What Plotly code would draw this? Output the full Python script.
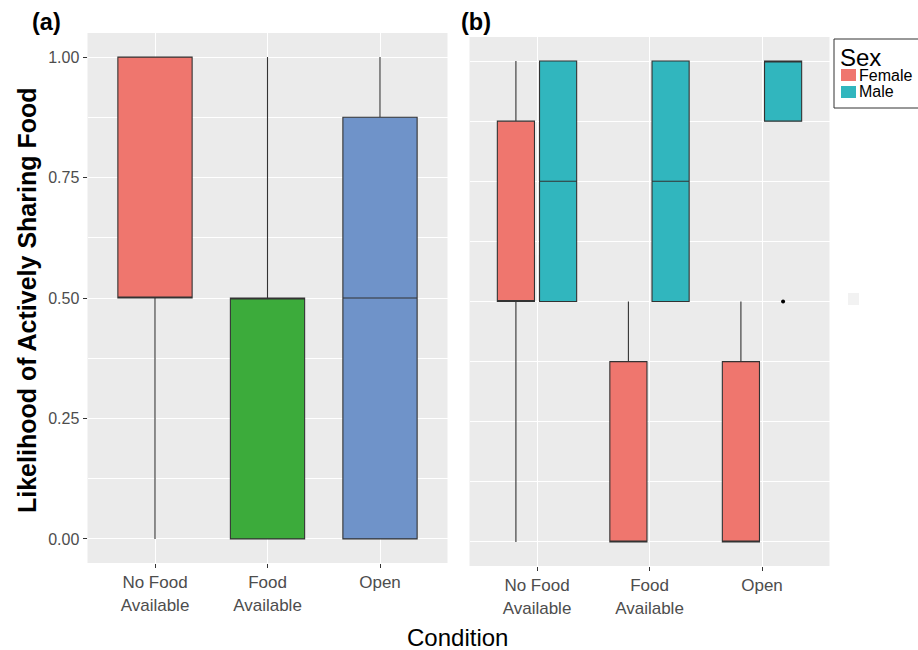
import plotly.graph_objects as go

# ---- data -------------------------------------------------------------
conditions = ["No Food<br>Available", "Food<br>Available", "Open"]

# panel (a): all individuals, one box per condition
a_q1 = [0.5, 0.0, 0.0]
a_median = [0.5, 0.5, 0.5]
a_q3 = [1.0, 0.5, 0.875]
a_low = [0.0, 0.0, 0.0]
a_high = [1.0, 1.0, 1.0]
a_colors = ["#EF766E", "#3CAB3B", "#6F93C9"]

# panel (b): split by sex
sexes = ["Female", "Male"]
sex_colors = {"Female": "#EF766E", "Male": "#31B6BE"}
b_q1 = {"Female": [0.5, 0.0, 0.0], "Male": [0.5, 0.5, 0.875]}
b_median = {"Female": [0.5, 0.0, 0.0], "Male": [0.75, 0.75, 1.0]}
b_q3 = {"Female": [0.875, 0.375, 0.375], "Male": [1.0, 1.0, 1.0]}
b_low = {"Female": [0.0, 0.0, 0.0], "Male": [0.5, 0.5, 0.875]}
b_high = {"Female": [1.0, 0.5, 0.5], "Male": [1.0, 1.0, 1.0]}
b_outlier_x = {"Female": [], "Male": ["Open"]}
b_outlier_y = {"Female": [], "Male": [0.5]}

y_ticks = [0.0, 0.25, 0.5, 0.75, 1.0]
y_ticktext = ["0.00", "0.25", "0.50", "0.75", "1.00"]

# ---- figure -----------------------------------------------------------
W, H = 918, 650
FONT = "Liberation Sans, Arial, sans-serif"
fig = go.Figure()

for i, cond in enumerate(conditions):
    fig.add_trace(go.Box(
        x=[cond], q1=[a_q1[i]], median=[a_median[i]], q3=[a_q3[i]],
        lowerfence=[a_low[i]], upperfence=[a_high[i]],
        fillcolor=a_colors[i], line=dict(color="#333333", width=1.1),
        whiskerwidth=0, boxpoints=False, showlegend=False,
        offsetgroup="a", alignmentgroup="pa", xaxis="x", yaxis="y",
        hoverinfo="skip",
    ))

for sex in sexes:
    fig.add_trace(go.Box(
        x=conditions, q1=b_q1[sex], median=b_median[sex], q3=b_q3[sex],
        lowerfence=b_low[sex], upperfence=b_high[sex],
        fillcolor=sex_colors[sex], line=dict(color="#333333", width=1.1),
        whiskerwidth=0, boxpoints=False, name=sex, showlegend=False,
        offsetgroup=sex, alignmentgroup="pb", xaxis="x2", yaxis="y2",
        hoverinfo="skip",
    ))
    fig.add_trace(go.Scatter(
        x=[conditions[2] if v == "Open" else v for v in b_outlier_x[sex]],
        y=b_outlier_y[sex], mode="markers",
        marker=dict(color="black", size=4), showlegend=False,
        offsetgroup=sex, alignmentgroup="pb", xaxis="x2", yaxis="y2",
        hoverinfo="skip",
    ))

tick_font = dict(family=FONT, size=17, color="#4D4D4D")
panel_bg = "#EBEBEB"

common_x = dict(
    type="category", categoryorder="array", categoryarray=conditions,
    range=[-0.6, 2.6], showgrid=True, gridcolor="white", gridwidth=1.1,
    ticks="outside", ticklen=4, tickcolor="#333333", tickfont=tick_font,
    zeroline=False, showline=False, fixedrange=True,
)
common_y = dict(
    range=[-0.05, 1.05], tickvals=y_ticks, showgrid=True, gridcolor="white",
    gridwidth=1.1, zeroline=False, showline=False, fixedrange=True,
    minor=dict(dtick=0.25, tick0=0.125, showgrid=True, gridcolor="white", gridwidth=0.5),
)

fig.update_layout(
    width=W, height=H,
    margin=dict(l=0, r=0, t=0, b=0, autoexpand=False),
    paper_bgcolor="white", plot_bgcolor=panel_bg,
    boxmode="group", boxgap=0.25, boxgroupgap=0.12,
    scattermode="group", scattergap=0.25,
    showlegend=False,
    xaxis=dict(domain=[87.5 / W, 447.5 / W], anchor="y", **common_x),
    yaxis=dict(domain=[1 - 563 / H, 1 - 33 / H], anchor="x",
               ticktext=y_ticktext, ticks="outside", ticklen=4,
               tickcolor="#333333", tickfont=dict(family=FONT, size=16, color="#4D4D4D"),
               **common_y),
    xaxis2=dict(domain=[469.5 / W, 829.5 / W], anchor="y2", **common_x),
    yaxis2=dict(domain=[1 - 566 / H, 1 - 37 / H], anchor="x2",
                showticklabels=False, ticks="", **common_y),
    font=dict(family=FONT),
)

# panel tags, shared axis titles
fig.add_annotation(text="<b>(a)</b>", x=30 / W, y=1 - 21.5 / H, xref="paper", yref="paper",
                   xanchor="left", yanchor="middle", showarrow=False,
                   font=dict(size=23.5, color="black"))
fig.add_annotation(text="<b>(b)</b>", x=459 / W, y=1 - 21.5 / H, xref="paper", yref="paper",
                   xanchor="left", yanchor="middle", showarrow=False,
                   font=dict(size=23.5, color="black"))
fig.add_annotation(text="<b>Likelihood of Actively Sharing Food</b>", textangle=-90,
                   x=27 / W, y=1 - 300 / H, xref="paper", yref="paper",
                   xanchor="center", yanchor="middle", showarrow=False,
                   font=dict(size=25, color="black"))
fig.add_annotation(text="Condition", x=457 / W, y=1 - 637 / H, xref="paper", yref="paper",
                   xanchor="center", yanchor="middle", showarrow=False,
                   font=dict(size=24, color="black"))

# legend for sex, drawn as a compact key box
fig.add_shape(type="rect", xref="paper", yref="paper",
              x0=834 / W, x1=930 / W, y0=1 - 108 / H, y1=1 - 39 / H,
              fillcolor="white", line=dict(color="#333333", width=1))
fig.add_annotation(text="Sex", x=838 / W, y=1 - 57 / H, xref="paper", yref="paper",
                   xanchor="left", yanchor="middle", showarrow=False,
                   font=dict(size=24, color="black"))
for k, sex in enumerate(sexes):
    top = 69 + 17 * k
    fig.add_shape(type="rect", xref="paper", yref="paper",
                  x0=841 / W, x1=856 / W, y0=1 - (top + 12) / H, y1=1 - top / H,
                  fillcolor=sex_colors[sex], line=dict(width=0))
    fig.add_annotation(text=sex, x=857 / W, y=1 - (top + 6) / H, xref="paper", yref="paper",
                       xanchor="left", yanchor="middle", showarrow=False,
                       font=dict(size=16, color="black"))

# faint key swatch beside panel (b)
fig.add_shape(type="rect", xref="paper", yref="paper",
              x0=848 / W, x1=859 / W, y0=1 - 305 / H, y1=1 - 293 / H,
              fillcolor="#F2F2F2", line=dict(width=0))

fig.write_html("out.html")
